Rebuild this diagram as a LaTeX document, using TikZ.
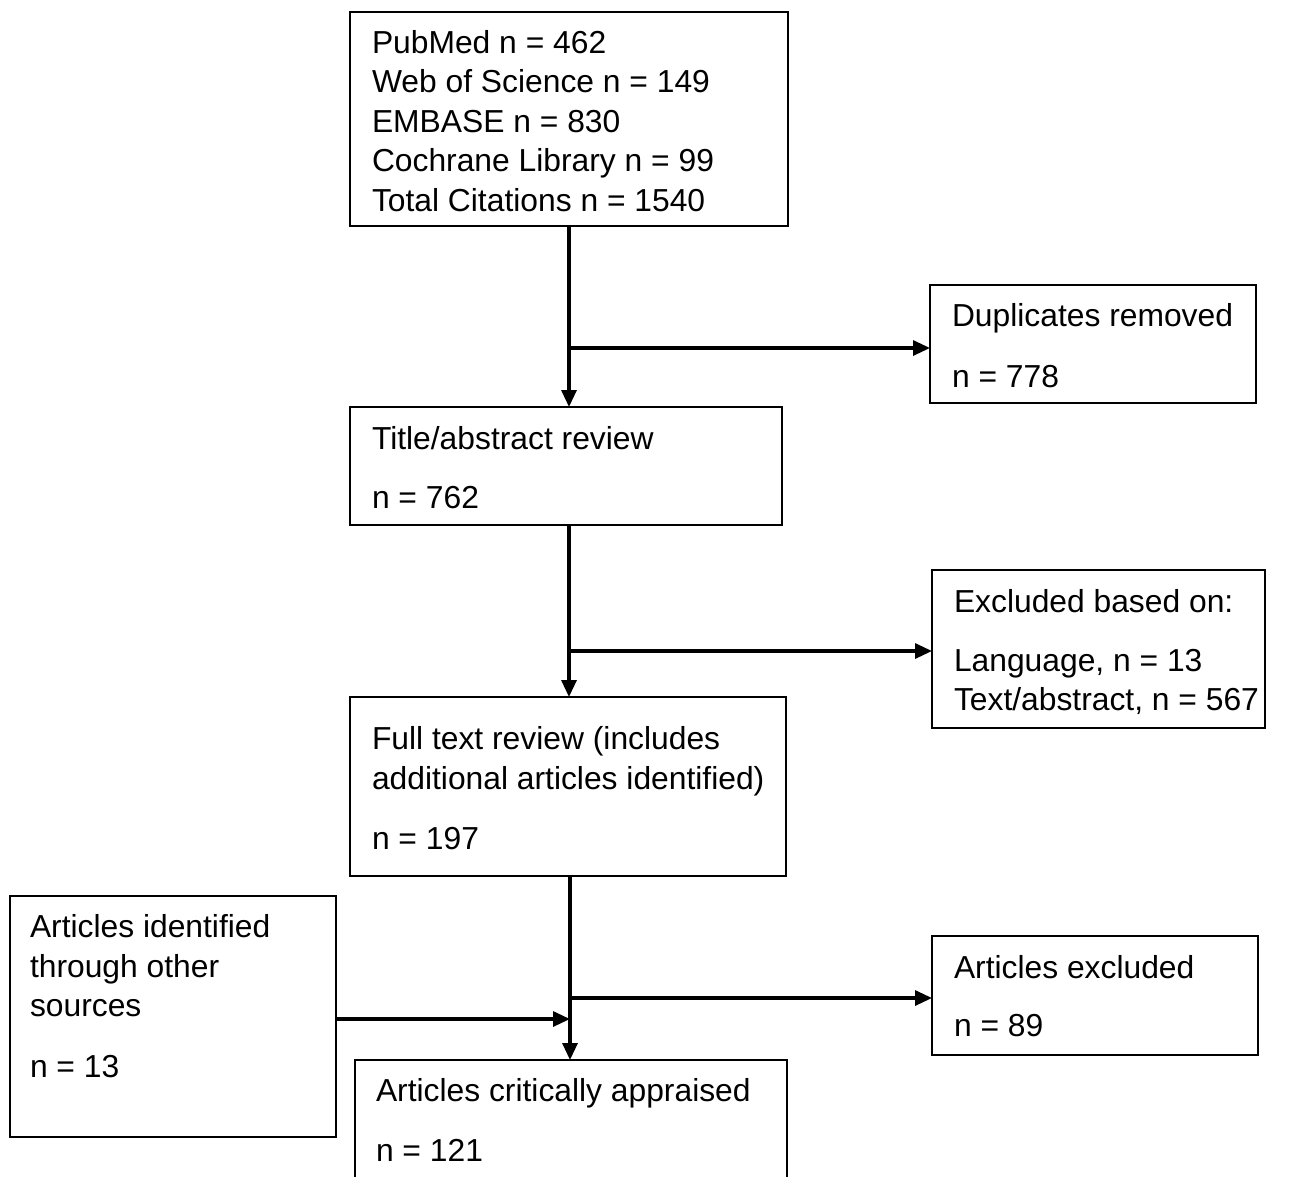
\documentclass[tikz,border=0pt]{standalone}
\usepackage{fontspec}
\setmainfont{Liberation Sans}
\usetikzlibrary{arrows.meta,calc}
\tikzset{
  box/.style={draw=black,line width=2pt,anchor=north west,inner sep=0pt,outer sep=0pt},
  txt/.style={anchor=base west,inner sep=0pt,outer sep=0pt,font=\fontsize{31.8}{39.5}\selectfont},
  arr/.style={line width=3.2pt,-{Triangle[length=17pt,width=15pt]}},
}
\begin{document}
\begin{tikzpicture}[x=1pt,y=-1pt]
\useasboundingbox (0,0) rectangle (1297,1176);
\fill[white] (0,0) rectangle (1297,1176);
% boxes
\node[box,minimum width=438pt,minimum height=214pt] (b1) at (350,12) {};
\node[box,minimum width=326pt,minimum height=118pt] (b2) at (930,285) {};
\node[box,minimum width=432pt,minimum height=118pt] (b3) at (350,407) {};
\node[box,minimum width=333pt,minimum height=158pt] (b4) at (932,570) {};
\node[box,minimum width=436pt,minimum height=179pt] (b5) at (350,697) {};
\node[box,minimum width=326pt,minimum height=241pt] (b6) at (10,896) {};
\node[box,minimum width=326pt,minimum height=119pt] (b7) at (932,936) {};
\node[box,minimum width=432pt,minimum height=130pt] (b8) at (355,1060) {};
% texts
\node[txt] (t1a) at (372,53) {PubMed n = 462};
\node[txt] (t1b) at (372,92) {Web of Science n = 149};
\node[txt] (t1c) at (372,132) {EMBASE n = 830};
\node[txt] (t1d) at (372,171) {Cochrane Library n = 99};
\node[txt] (t1e) at (372,211) {Total Citations n = 1540};
\node[txt] (t2a) at (952,326) {Duplicates removed};
\node[txt] (t2b) at (952,387) {n = 778};
\node[txt] (t3a) at (372,449) {Title/abstract review};
\node[txt] (t3b) at (372,508) {n = 762};
\node[txt] (t4a) at (954,612) {Excluded based on:};
\node[txt] (t4b) at (954,671) {Language, n = 13};
\node[txt] (t4c) at (954,710) {Text/abstract, n = 567};
\node[txt] (t5a) at (372,749) {Full text review (includes};
\node[txt] (t5b) at (372,789) {additional articles identified)};
\node[txt] (t5c) at (372,849) {n = 197};
\node[txt] (t6a) at (30,937) {Articles identified};
\node[txt] (t6b) at (30,977) {through other};
\node[txt] (t6c) at (30,1016) {sources};
\node[txt] (t6d) at (30,1077) {n = 13};
\node[txt] (t7a) at (954,978) {Articles excluded};
\node[txt] (t7b) at (954,1036) {n = 89};
\node[txt] (t8a) at (376,1101) {Articles critically appraised};
\node[txt] (t8b) at (376,1161) {n = 121};
% junctions
\coordinate (j1) at (569,348);
\coordinate (j2) at (569,651);
\coordinate (j3) at (570,998);
\coordinate (m) at (570,1019);
% connectors
\draw[arr] (j1 |- b1.south) -- (j1 |- b3.north);
\draw[arr] (j1) -- (j1 -| b2.west);
\draw[arr] (j2 |- b3.south) -- (j2 |- b5.north);
\draw[arr] (j2) -- (j2 -| b4.west);
\draw[arr] (j3 |- b5.south) -- (j3 |- b8.north);
\draw[arr] (j3) -- (j3 -| b7.west);
\draw[arr] (m -| b6.east) -- (m);
\end{tikzpicture}
\end{document}
